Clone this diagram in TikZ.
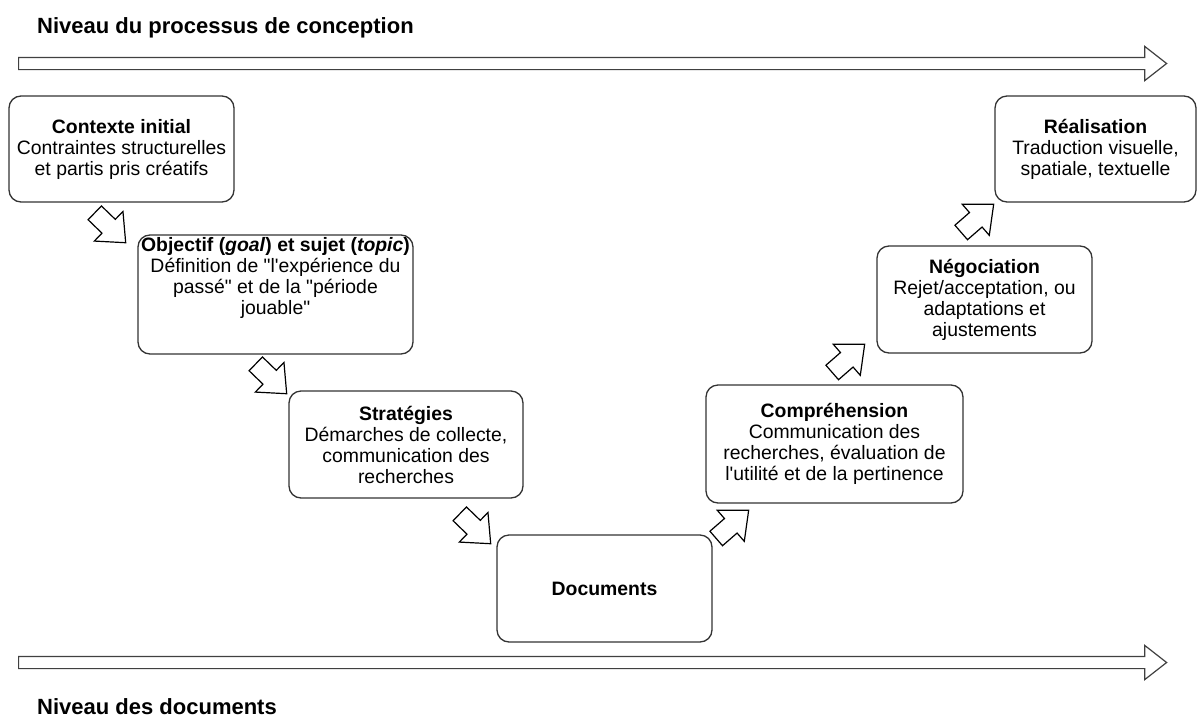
\documentclass[tikz,border=0pt]{standalone}
\usepackage{fontspec}
\setmainfont{Liberation Sans}
\usetikzlibrary{shapes.arrows, positioning}
\tikzstyle{stage} = [rectangle, rounded corners=12pt, draw=black!80, line width=1.3pt, fill=white, align=center, text centered, inner sep=0pt, font=\fontsize{19.4}{21}\selectfont]
\tikzstyle{blockarrow} = [single arrow, draw=black, line width=1.2pt, fill=white, minimum height=43pt, inner xsep=0pt, inner ysep=9pt, single arrow head extend=11pt, single arrow tip angle=82, anchor=tip]
\tikzstyle{stepdown} = [blockarrow, rotate=-44]
\tikzstyle{stepup} = [blockarrow, rotate=41]
\tikzstyle{levelarrow} = [single arrow, draw=black!75, line width=1.2pt, fill=white, minimum height=1148pt, inner xsep=0pt, inner ysep=5.5pt, single arrow head extend=11pt, single arrow tip angle=76, anchor=tail]
\tikzstyle{leveltitle} = [anchor=base west, inner sep=0pt, font=\fontsize{22}{26}\selectfont\bfseries]

\begin{document}
\begin{tikzpicture}[x=1pt, y=-1pt]
	\useasboundingbox (0,0) rectangle (1199,723);
	
	% Levels
	\node (design) [levelarrow] at (18,63.5) {};
	\node (sources) [levelarrow] at (18,662.5) {};
	\node (designtitle) [leveltitle] at (37,33) {Niveau du processus de conception};
	\node (sourcestitle) [leveltitle] at (37,714) {Niveau des documents};
	
	% Nodes
	\node (context) [stage, minimum width=225pt, minimum height=106pt] at (121.5,149) {\textbf{Contexte initial}\\Contraintes structurelles\\et partis pris créatifs};
	\node (objective) [stage, minimum width=275pt, minimum height=119pt, text depth=37pt] at (275.5,294.5) {\textbf{Objectif (\textit{goal}) et sujet (\textit{topic})}\\Définition de \textquotedbl l\textquotesingle expérience du\\passé\textquotedbl{} et de la \textquotedbl période\\jouable\textquotedbl};
	\node (strategies) [stage, minimum width=234pt, minimum height=107pt] at (406,444.5) {\textbf{Stratégies}\\Démarches de collecte,\\communication des\\recherches};
	\node (documents) [stage, minimum width=215pt, minimum height=107pt] at (604.5,588.5) {\textbf{Documents}};
	\node (understanding) [stage, minimum width=257pt, minimum height=118pt] at (834.5,444) {\textbf{Compréhension}\\Communication des\\recherches, évaluation de\\l\textquotesingle utilité et de la pertinence};
	\node (negotiation) [stage, minimum width=215pt, minimum height=107pt] at (984.5,299.5) {\textbf{Négociation}\\Rejet/acceptation, ou\\adaptations et\\ajustements};
	\node (realisation) [stage, minimum width=201pt, minimum height=106pt] at (1095.5,149) {\textbf{Réalisation}\\Traduction visuelle,\\spatiale, textuelle};
	
	% Arrows
	\node (down1) [stepdown] at ([shift={(-11,9)}]objective.north west) {};
	\node (down2) [stepdown] at ([shift={(-1,4)}]strategies.north west) {};
	\node (down3) [stepdown] at ([shift={(-5,10)}]documents.north west) {};
	\node (up1) [stepup] at ([shift={(44,6)}]understanding.south west) {};
	\node (up2) [stepup] at ([shift={(-11,-10)}]negotiation.south west) {};
	\node (up3) [stepup] at ([shift={(0,1)}]realisation.south west) {};
	
\end{tikzpicture}
\end{document}
